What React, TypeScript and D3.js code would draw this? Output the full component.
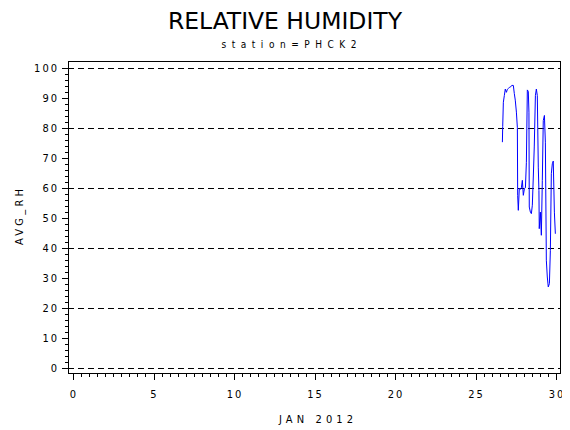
import { useEffect, useRef } from "react";
import * as d3 from "d3";

// hours of Jan 2012 expressed as day-of-month
const days = [
  26.67, 26.69, 26.73, 26.79, 26.85, 26.92, 26.98, 27.04, 27.1, 27.18, 27.25,
  27.35, 27.41, 27.47, 27.54, 27.6, 27.62, 27.66, 27.72, 27.79, 27.85, 27.91,
  27.97, 28.04, 28.1, 28.16, 28.22, 28.28, 28.32, 28.34, 28.41, 28.47, 28.53,
  28.59, 28.65, 28.72, 28.78, 28.84, 28.9, 28.94, 28.96, 29.03, 29.09, 29.15,
  29.21, 29.28, 29.34, 29.4, 29.46, 29.52, 29.59, 29.65, 29.71, 29.77, 29.83,
  29.9, 29.96,
];
const avgRh = [
  75.2, 80.4, 88.5, 90.7, 92.9, 91.8, 92.8, 93.1, 93.4, 93.6, 94.1, 94.1, 91.4,
  89.2, 85.2, 80.0, 57.5, 52.5, 59.8, 59.5, 60.0, 62.5, 57.5, 59.8, 60.0, 68.5,
  92.6, 92.1, 85.2, 53.6, 51.9, 51.4, 54.2, 63.6, 73.6, 90.7, 92.9, 90.7, 66.9,
  59.1, 46.4, 51.9, 44.2, 62.5, 82.4, 84.1, 75.2, 35.9, 30.3, 27.0, 28.1, 39.2,
  64.7, 68.0, 68.9, 51.9, 44.7,
];

const xTicks = [0, 5, 10, 15, 20, 25, 30];
const yTicks = [0, 10, 20, 30, 40, 50, 60, 70, 80, 90, 100];
const gridValues = [0, 20, 40, 60, 80, 100];

const title = "RELATIVE HUMIDITY";
const subtitle = "station=PHCK2";
const xLabel = "JAN 2012";
const yLabel = "AVG_RH";

function Chart() {
  const ref = useRef<SVGSVGElement>(null);

  useEffect(() => {
    const width = 570;
    const height = 430;
    const frame = { left: 68, right: 560, top: 61, bottom: 373 };
    const font = "'DejaVu Sans Condensed', 'DejaVu Sans', sans-serif";

    const svg = d3.select(ref.current);
    svg.selectAll("*").remove();
    svg.attr("width", width).attr("height", height);

    const xScale = d3.scaleLinear().domain([0, 30]).range([73, 556]);
    const yScale = d3.scaleLinear().domain([0, 100]).range([368, 67.7]);

    // titles
    svg
      .append("text")
      .attr("x", 285)
      .attr("y", 29)
      .attr("text-anchor", "middle")
      .attr("font-family", font)
      .attr("font-size", 23)
      .attr("textLength", 234)
      .attr("lengthAdjust", "spacingAndGlyphs")
      .text(title);
    svg
      .append("text")
      .attr("x", 289)
      .attr("y", 48)
      .attr("text-anchor", "middle")
      .attr("font-family", font)
      .attr("font-size", 10)
      .attr("textLength", 135)
      .attr("lengthAdjust", "spacing")
      .text(subtitle);

    // gridlines
    svg
      .append("g")
      .selectAll("line")
      .data(gridValues)
      .join("line")
      .attr("x1", frame.left)
      .attr("x2", frame.right)
      .attr("y1", (d) => Math.round(yScale(d)) + 0.5)
      .attr("y2", (d) => Math.round(yScale(d)) + 0.5)
      .attr("stroke", "black")
      .attr("stroke-dasharray", "6,4");

    // frame
    svg
      .append("rect")
      .attr("x", frame.left + 0.5)
      .attr("y", frame.top + 0.5)
      .attr("width", frame.right - frame.left)
      .attr("height", frame.bottom - frame.top)
      .attr("fill", "none")
      .attr("stroke", "black");

    // y axis ticks
    const yAxis = svg.append("g").attr("stroke", "black");
    yAxis
      .selectAll("line.minor")
      .data(d3.range(0, 101, 2))
      .join("line")
      .attr("class", "minor")
      .attr("x1", frame.left - 3)
      .attr("x2", frame.left)
      .attr("y1", (d) => Math.round(yScale(d)) + 0.5)
      .attr("y2", (d) => Math.round(yScale(d)) + 0.5);
    yAxis
      .selectAll("line.major")
      .data(yTicks)
      .join("line")
      .attr("class", "major")
      .attr("x1", frame.left - 6)
      .attr("x2", frame.left)
      .attr("y1", (d) => Math.round(yScale(d)) + 0.5)
      .attr("y2", (d) => Math.round(yScale(d)) + 0.5);
    svg
      .append("g")
      .selectAll("text")
      .data(yTicks)
      .join("text")
      .attr("x", 59)
      .attr("y", (d) => yScale(d) + 4)
      .attr("text-anchor", "end")
      .attr("font-family", font)
      .attr("font-size", 11)
      .attr("letter-spacing", 2)
      .text((d) => d);

    // x axis ticks
    const xAxis = svg.append("g").attr("stroke", "black");
    xAxis
      .selectAll("line.minor")
      .data(d3.range(0, 30.01, 0.5))
      .join("line")
      .attr("class", "minor")
      .attr("x1", (d) => Math.round(xScale(d)) + 0.5)
      .attr("x2", (d) => Math.round(xScale(d)) + 0.5)
      .attr("y1", frame.bottom)
      .attr("y2", frame.bottom + 4);
    xAxis
      .selectAll("line.major")
      .data(xTicks)
      .join("line")
      .attr("class", "major")
      .attr("x1", (d) => Math.round(xScale(d)) + 0.5)
      .attr("x2", (d) => Math.round(xScale(d)) + 0.5)
      .attr("y1", frame.bottom)
      .attr("y2", frame.bottom + 7);
    svg
      .append("g")
      .selectAll("text")
      .data(xTicks)
      .join("text")
      .attr("x", (d) => xScale(d) + 1)
      .attr("y", 398)
      .attr("text-anchor", "middle")
      .attr("font-family", font)
      .attr("font-size", 11)
      .attr("letter-spacing", 2)
      .text((d) => d);

    // axis labels
    svg
      .append("text")
      .attr("x", 316)
      .attr("y", 423)
      .attr("text-anchor", "middle")
      .attr("font-family", font)
      .attr("font-size", 11)
      .attr("textLength", 74)
      .attr("lengthAdjust", "spacing")
      .text(xLabel);
    svg
      .append("text")
      .attr("transform", "translate(23, 217) rotate(-90)")
      .attr("text-anchor", "middle")
      .attr("font-family", font)
      .attr("font-size", 11)
      .attr("textLength", 56)
      .attr("lengthAdjust", "spacing")
      .text(yLabel);

    // data line
    const line = d3
      .line<number>()
      .x((d, i) => xScale(days[i]))
      .y((d) => yScale(d));
    svg
      .append("path")
      .datum(avgRh)
      .attr("fill", "none")
      .attr("stroke", "#0000ff")
      .attr("stroke-width", 1)
      .attr("d", line);
  }, []);

  return <svg ref={ref}></svg>;
}

export default function App() {
  return (
    <div style={{ margin: "-8px" }}>
      <Chart />
    </div>
  );
}
